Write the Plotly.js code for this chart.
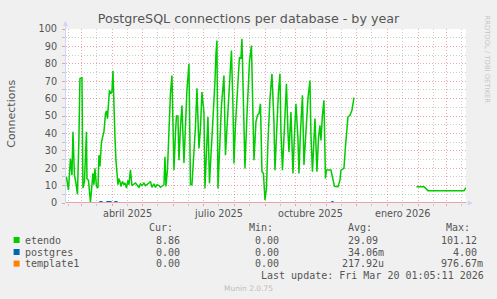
<!DOCTYPE html>
<html><head><meta charset="utf-8">
<script src="https://cdn.plot.ly/plotly-3.0.1.min.js"></script>
<style>html,body{margin:0;padding:0;background:#F0F0F0;}#chart{width:497px;height:299px;}</style>
</head><body><div id="chart"></div>
<script>
// ---------------- data ----------------
const etendoDates = [
"2025-02-13 12:00","2025-02-15 12:00","2025-02-17 12:00","2025-02-19","2025-02-20","2025-02-21 12:00","2025-02-23","2025-02-24 12:00","2025-02-26","2025-02-27",
"2025-03-01","2025-03-02","2025-03-03 12:00","2025-03-04 12:00","2025-03-05 12:00","2025-03-06","2025-03-07 12:00","2025-03-09 12:00","2025-03-11","2025-03-12",
"2025-03-13","2025-03-14","2025-03-15 12:00","2025-03-17","2025-03-18","2025-03-19","2025-03-20 12:00","2025-03-22","2025-03-23","2025-03-24 12:00",
"2025-03-25 12:00","2025-03-26 12:00","2025-03-27 12:00","2025-03-28 12:00","2025-03-30","2025-03-31","2025-04-01","2025-04-02","2025-04-03","2025-04-04",
"2025-04-05","2025-04-06","2025-04-07","2025-04-08","2025-04-09","2025-04-10 12:00","2025-04-12","2025-04-13","2025-04-14 12:00","2025-04-16",
"2025-04-17","2025-04-18 12:00","2025-04-20","2025-04-23 12:00","2025-04-27","2025-04-28 12:00","2025-04-30","2025-05-02","2025-05-03 12:00","2025-05-05",
"2025-05-07","2025-05-08 12:00","2025-05-10","2025-05-12","2025-05-13 12:00","2025-05-15","2025-05-17","2025-05-18 12:00","2025-05-20","2025-05-22",
"2025-05-23","2025-05-24","2025-05-25 12:00","2025-05-27","2025-05-28 12:00","2025-05-30","2025-05-31","2025-06-01","2025-06-02 12:00","2025-06-03 12:00",
"2025-06-05","2025-06-06","2025-06-07 12:00","2025-06-09","2025-06-11","2025-06-12 12:00","2025-06-14","2025-06-16","2025-06-17 12:00","2025-06-19",
"2025-06-21","2025-06-22 12:00","2025-06-24","2025-06-26","2025-06-27 12:00","2025-06-29","2025-07-01","2025-07-02","2025-07-03","2025-07-05",
"2025-07-06 12:00","2025-07-08","2025-07-10","2025-07-12","2025-07-13","2025-07-14","2025-07-15","2025-07-16 12:00","2025-07-18 12:00","2025-07-21",
"2025-07-22 12:00","2025-07-24","2025-07-26 12:00","2025-07-28 12:00","2025-07-30","2025-07-31","2025-08-01 12:00","2025-08-04","2025-08-05 12:00","2025-08-07",
"2025-08-08","2025-08-10","2025-08-11","2025-08-13","2025-08-15 12:00","2025-08-17 12:00","2025-08-19","2025-08-20","2025-08-22","2025-08-23 12:00",
"2025-08-25","2025-08-26 12:00","2025-08-28","2025-08-29 12:00","2025-08-31","2025-09-01 12:00","2025-09-03","2025-09-05","2025-09-07","2025-09-09",
"2025-09-10","2025-09-11 12:00","2025-09-13 12:00","2025-09-15","2025-09-16","2025-09-17 12:00","2025-09-19 12:00","2025-09-21 12:00","2025-09-23","2025-09-24",
"2025-09-26","2025-09-28","2025-09-29 12:00","2025-10-01","2025-10-03","2025-10-04","2025-10-05 12:00","2025-10-07 12:00","2025-10-09","2025-10-11",
"2025-10-13","2025-10-15","2025-10-16","2025-10-17 12:00","2025-10-19","2025-10-20","2025-10-22","2025-10-23 12:00","2025-10-25","2025-10-26",
"2025-10-27 12:00","2025-10-29","2025-10-30 12:00","2025-10-31 12:00","2025-11-05","2025-11-07","2025-11-08 12:00","2025-11-12","2025-11-14","2025-11-15",
"2025-11-18","2025-11-19 12:00","2025-11-22","2025-11-24","2025-11-26","2025-11-28","2025-12-15","2026-01-29 12:00","2026-02-03 12:00","2026-02-06",
"2026-02-10","2026-03-18","2026-03-20"
];
const etendoValues = [
15,7.5,25.5,16,41,16,11.5,5,38,71.6,
72,8.6,12.4,31,41,14,13,0.5,13,17,
10.5,20,9.5,8.6,27.5,21,35,40,41,51,
53,48.5,59,64.7,62.8,64,76,53,38,24.6,
17,10.5,14,12.4,9.5,12.4,10.5,11.5,8.6,13,
10.5,19,10,11.5,9,11,10,11.5,10,10.5,
11.5,12.4,9,11,9,10.5,10,9,9.5,10.5,
26.6,9.5,19,40,63,73.3,43.7,19,40,50,
50,24.6,43.7,56,23,43.7,65,80,10.5,10.5,
28.6,43.7,66,31.3,42.8,63.8,52,8.4,21.8,49.5,
11.3,25.6,46.6,69.5,85.8,93.4,8.4,31.3,56,73.3,
27.5,42.8,69.5,87.6,56,22.7,44.7,71.4,83.8,82.9,
94.4,44.7,19.9,50.4,81,90.5,50.4,24.6,46.6,50.4,
51.4,57,18,17,1.7,8.4,35,60,74.3,46.6,
18.9,38.9,63.8,74.3,40.8,18.9,46.6,68.5,40.8,29.4,
52.3,17,38.9,57,37,17,40.8,61.9,21.8,38.9,
60,70.4,38.9,18,33.2,48.5,18,37,44.7,36,
50.4,59,14.1,18.9,18.9,13,9.6,9.4,13,18.9,
19.9,32.3,49.5,50.4,53.3,60.6,null,9.4,9.4,9.4,
7.1,7.1,8.86
];
const postgresDates = ["2025-02-13 12:00","2025-03-18","2025-03-19","2025-03-21","2025-03-22","2025-03-25","2025-03-26","2025-03-30","2025-03-31","2025-04-02","2025-04-03","2025-04-05","2025-04-06","2025-11-05","2025-11-06","2025-11-07","2025-11-08","2025-11-28","2025-12-15","2026-01-29 12:00","2026-03-20"];
const postgresValues = [0,0,0.8,0.8,0,0,0.8,0.8,0,0,0.8,0.8,0,0,0.8,0.8,0,0,null,0,0];
const template1Dates = ["2025-02-13 12:00","2025-11-28","2025-12-15","2026-01-29 12:00","2026-03-20"];
const template1Values = [0,0,null,0,0];

const seriesNames = ["etendo","postgres","template1"];
const seriesColors = ["#00CC00","#0066B3","#FF8000"];
const curVals = ["8.86","0.00","0.00"];
const minVals = ["0.00","0.00","0.00"];
const avgVals = ["29.09","34.06m","217.92u"];
const maxVals = ["101.12","4.00","976.67m"];
const xLabelDates = ["2025-04-16","2025-07-16","2025-10-16","2026-01-16"];
const xLabelTexts = ["abril 2025","julio 2025","octubre 2025","enero 2026"];
const titleText = "PostgreSQL connections per database - by year";
const yTitle = "Connections";
const lastUpdate = "Last update: Fri Mar 20 01:05:11 2026";
const rangeStart = "2025-02-13 01:05", rangeEnd = "2026-03-20 01:05";

// ---------------- geometry helpers ----------------
const L = 66, R = 466, T = 29, B = 203;
const px = x => (x - L) / (R - L);
const py = y => (B - y) / (B - T);
const CW = 6.0205; // mono char width at 10px

// grid positions
const monthStarts = [], midMonths = [];
for (let i = 0; i < 14; i++) {
  const y = 2025 + Math.floor((1 + i) / 12), m = ((1 + i) % 12) + 1;
  const mm = String(m).padStart(2, "0");
  monthStarts.push(`${y}-${mm}-01`);
  midMonths.push(`${y}-${mm}-16`);
}
midMonths.unshift("2025-02-16");

const red = "rgba(222,79,79,0.5)";
const grey = "rgba(143,143,143,0.45)";
const fontCol = "#555555";

const traces = [
  {x: etendoDates, y: etendoValues, type: "scatter", mode: "lines", line: {color: seriesColors[0], width: 1.5}, connectgaps: false, hoverinfo: "skip"},
  {x: postgresDates, y: postgresValues, type: "scatter", mode: "lines", line: {color: seriesColors[1], width: 1.2}, connectgaps: false, hoverinfo: "skip"},
  {x: template1Dates, y: template1Values, type: "scatter", mode: "lines", line: {color: seriesColors[2], width: 1.0}, connectgaps: false, hoverinfo: "skip"}
];

function ann(x, y, text, xanchor, size, color, family, extra) {
  return Object.assign({xref: "paper", yref: "paper", x: px(x), y: py(y), text: text, showarrow: false,
    xanchor: xanchor, yanchor: "middle", borderpad: 0, borderwidth: 0,
    font: {family: family || "DejaVu Sans Mono", size: size || 10, color: color || fontCol}}, extra || {});
}

const annotations = [];
xLabelTexts.forEach((t, i) => annotations.push({xref: "x", yref: "paper", x: xLabelDates[i], y: py(213), text: t,
  showarrow: false, xanchor: "center", yanchor: "middle", borderpad: 0, borderwidth: 0,
  font: {family: "DejaVu Sans", size: 9.7, color: fontCol}}));
annotations.push(ann(10.8, 114, yTitle, "center", 11, fontCol, "DejaVu Sans", {textangle: -90}));
annotations.push(ann(486.5, 59, "RRDTOOL / TOBI OETIKER", "center", 6.8, "#C4C4C4", "DejaVu Sans", {textangle: 90}));
annotations.push(ann(248.5, 288.3, "Munin 2.0.75", "center", 7.5, "#BDBDBD", "DejaVu Sans"));
[["Cur:", 148.7], ["Min:", 248.7], ["Avg:", 348.0], ["Max:", 446.3]].forEach(h => annotations.push(ann(h[1], 227.5, h[0], "left")));
const rowY = [240, 252, 263.6];
const colRight = [179.6, 278.9, 378.3, 477.3];
const shapes = [];
seriesNames.forEach((n, i) => {
  const y = rowY[i];
  shapes.push({type: "rect", xref: "paper", yref: "paper", x0: px(13.6), x1: px(19.6), y0: py(y - 3), y1: py(y + 3),
    fillcolor: seriesColors[i], line: {width: 0}});
  annotations.push(ann(25.4, y, n, "left"));
  [curVals[i], minVals[i], avgVals[i], maxVals[i]].forEach((v, k) => {
    const num = v.replace(/[a-zA-Z]$/, "");
    annotations.push(ann(colRight[k] - num.length * CW, y, v, "left"));
  });
});
annotations.push(ann(483.3 - lastUpdate.length * CW, 275.3, lastUpdate, "left"));

// axis lines drawn over the series (as rrdtool does), plus arrows
const axc = "#CFD6F8";
shapes.push({type: "line", xref: "paper", yref: "y", x0: 0, x1: 1, y0: 0, y1: 0, layer: "above", line: {color: "#E8A4A8", width: 1.8}});
shapes.push({type: "line", xref: "paper", yref: "paper", x0: px(65.5), x1: px(65.5), y0: 1, y1: py(23), line: {color: axc, width: 1}});
shapes.push({type: "path", xref: "paper", yref: "paper", path: `M ${px(63)} ${py(26)} L ${px(68)} ${py(26)} L ${px(65.5)} ${py(20.5)} Z`, fillcolor: axc, line: {width: 0}});
shapes.push({type: "line", xref: "paper", yref: "paper", x0: 1, x1: px(469), y0: 0, y1: 0, line: {color: axc, width: 1}});
shapes.push({type: "path", xref: "paper", yref: "paper", path: `M ${px(468)} ${py(200.5)} L ${px(468)} ${py(205.5)} L ${px(473)} ${py(203)} Z`, fillcolor: axc, line: {width: 0}});

const layout = {
  width: 497, height: 299,
  margin: {l: L, r: 497 - R, t: T, b: 299 - B, pad: 0},
  paper_bgcolor: "#F0F0F0", plot_bgcolor: "#FFFFFF",
  showlegend: false,
  font: {family: "DejaVu Sans", color: fontCol, size: 9.7},
  title: {text: titleText, font: {family: "DejaVu Sans", size: 12.7, color: fontCol},
    xref: "container", x: 0.5, xanchor: "center", yref: "container", y: 1 - 18.8 / 299, yanchor: "middle"},
  xaxis: {type: "date", range: [rangeStart, rangeEnd], tickmode: "array", tickvals: monthStarts,
    ticktext: monthStarts.map(() => ""), showgrid: true, gridcolor: red, griddash: "1px,2px", gridwidth: 1,
    ticks: "outside", ticklen: 2, tickcolor: red, showline: false, zeroline: false,
    minor: {tickmode: "array", tickvals: midMonths, showgrid: true, gridcolor: grey, griddash: "1px,2px",
      ticks: "outside", ticklen: 2, tickcolor: grey},
    fixedrange: true},
  yaxis: {range: [0, 100], tickmode: "linear", tick0: 0, dtick: 10, showgrid: true, gridcolor: red, griddash: "1px,2px",
    ticks: "outside", ticklen: 3, tickcolor: red, ticklabelstandoff: 3,
    minor: {tickmode: "linear", tick0: 0, dtick: 5, showgrid: true, gridcolor: grey, griddash: "1px,2px", ticks: "outside", ticklen: 3, tickcolor: grey},
    showline: true, linecolor: axc, linewidth: 1, zeroline: false,
    tickfont: {family: "DejaVu Sans", size: 9.7, color: fontCol}, fixedrange: true},
  annotations: annotations,
  shapes: shapes
};

Plotly.newPlot("chart", traces, layout, {staticPlot: true, displayModeBar: false});
</script>
</body></html>
